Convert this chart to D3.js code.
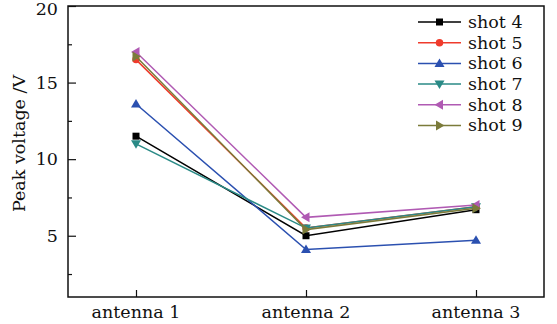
<!DOCTYPE html>
<html>
<head>
<meta charset="utf-8">
<script src="https://cdn.jsdelivr.net/npm/d3@7"></script>
<style>
  body { margin: 0; background: #fff; }
</style>
</head>
<body>
<div id="chart"></div>
<script>
const width = 557;
const height = 324;
const margin = { top: 6, right: 13, bottom: 27, left: 68 };

// --- data ---
const antennas = ["antenna 1", "antenna 2", "antenna 3"];
const shotNames = ["shot 4", "shot 5", "shot 6", "shot 7", "shot 8", "shot 9"];
const shot4 = [11.5, 5.0, 6.7];
const shot5 = [16.5, 5.5, 6.9];
const shot6 = [13.6, 4.1, 4.7];
const shot7 = [11.0, 5.5, 6.9];
const shot8 = [17.0, 6.2, 7.0];
const shot9 = [16.7, 5.4, 6.8];
const yTicks = [5, 10, 15, 20];
const yMinorTicks = [2.5, 7.5, 12.5, 17.5];

const colors = ["#000000", "#ef3b2c", "#2b50b0", "#2a8a86", "#b05ab3", "#7b7b3a"];
const symbols = ["square", "circle", "up", "down", "left", "right"];

const series = shotNames.map((name, i) => ({
    name: name,
    values: [shot4, shot5, shot6, shot7, shot8, shot9][i],
    color: colors[i],
    symbol: symbols[i]
}));

const svg = d3.select("#chart")
    .append("svg")
    .attr("width", width)
    .attr("height", height)
    .attr("font-family", "'DejaVu Serif', 'Liberation Serif', serif")
    .attr("font-size", 17.5)
    .style("font-family", "'DejaVu Serif', 'Liberation Serif', serif");

const x = d3.scalePoint()
    .domain(antennas)
    .range([margin.left, width - margin.right])
    .padding(0.4);

const y = d3.scaleLinear()
    .domain([1, 20])
    .range([height - margin.bottom, margin.top]);

// marker path generator
function markerPath(type) {
    if (type === "square") return "M-3.5,-3.5H3.5V3.5H-3.5Z";
    if (type === "circle") return d3.symbol(d3.symbolCircle, 44)();
    if (type === "up") return "M0,-5L5,3.5L-5,3.5Z";
    if (type === "down") return "M0,5L5,-3.5L-5,-3.5Z";
    if (type === "left") return "M-5,0L3.5,-5L3.5,5Z";
    return "M5,0L-3.5,-5L-3.5,5Z";
}

// --- axes ---
const plotBottom = height - margin.bottom;
const plotRight = width - margin.right;

const yAxis = svg.append("g")
    .attr("transform", `translate(${margin.left},0)`)
    .call(d3.axisRight(y).tickValues(yTicks).tickSize(8).tickFormat(""));
yAxis.select(".domain").remove();
yAxis.selectAll("line").attr("stroke", "#111").attr("stroke-width", 1.2);

const yMinor = svg.append("g")
    .attr("transform", `translate(${margin.left},0)`)
    .call(d3.axisRight(y).tickValues(yMinorTicks).tickSize(4).tickFormat(""));
yMinor.select(".domain").remove();
yMinor.selectAll("line").attr("stroke", "#111").attr("stroke-width", 1.2);

// top label nudged down so it stays inside the picture
svg.append("g")
    .selectAll("text")
    .data(yTicks)
    .enter()
    .append("text")
    .attr("x", margin.left - 10)
    .attr("y", d => y(d) + (d === 20 ? 3 : 0))
    .attr("dy", "0.34em")
    .attr("text-anchor", "end")
    .attr("fill", "#111")
    .text(d => d);

const xAxis = svg.append("g")
    .attr("transform", `translate(0,${plotBottom})`)
    .call(d3.axisTop(x).tickSize(7).tickFormat(""));
xAxis.select(".domain").remove();
xAxis.selectAll("line").attr("stroke", "#111").attr("stroke-width", 1.2);

svg.append("g")
    .selectAll("text")
    .data(antennas)
    .enter()
    .append("text")
    .attr("x", d => x(d))
    .attr("y", plotBottom + 21)
    .attr("text-anchor", "middle")
    .attr("fill", "#111")
    .text(d => d);

// frame
svg.append("rect")
    .attr("x", margin.left)
    .attr("y", margin.top)
    .attr("width", plotRight - margin.left)
    .attr("height", plotBottom - margin.top)
    .attr("fill", "none")
    .attr("stroke", "#111")
    .attr("stroke-width", 1.5);

svg.append("text")
    .attr("transform", `translate(25,${(margin.top + plotBottom) / 2 - 8}) rotate(-90)`)
    .attr("text-anchor", "middle")
    .attr("fill", "#111")
    .text("Peak voltage /V");

// --- lines + markers ---
const line = d3.line()
    .x((d, i) => x(antennas[i]))
    .y(d => y(d));

const seriesG = svg.selectAll(".series")
    .data(series)
    .enter()
    .append("g")
    .attr("class", "series");

seriesG.append("path")
    .attr("d", d => line(d.values))
    .attr("fill", "none")
    .attr("stroke", d => d.color)
    .attr("stroke-width", 1.5);

seriesG.selectAll(".pt")
    .data(d => d.values.map((v, i) => ({ v: v, i: i, s: d })))
    .enter()
    .append("path")
    .attr("class", "pt")
    .attr("transform", d => `translate(${x(antennas[d.i])},${y(d.v)})`)
    .attr("d", d => markerPath(d.s.symbol))
    .attr("fill", d => d.s.color);

// --- legend ---
const legend = svg.append("g")
    .attr("transform", "translate(418,22)");

const item = legend.selectAll(".item")
    .data(series)
    .enter()
    .append("g")
    .attr("class", "item")
    .attr("transform", (d, i) => `translate(0,${i * 20.7})`);

item.append("line")
    .attr("x1", 0)
    .attr("x2", 43)
    .attr("stroke", d => d.color)
    .attr("stroke-width", 1.5);

item.append("path")
    .attr("transform", "translate(21.5,0)")
    .attr("d", d => markerPath(d.symbol))
    .attr("fill", d => d.color);

item.append("text")
    .attr("x", 50)
    .attr("dy", "0.34em")
    .attr("fill", "#111")
    .text(d => d.name);
</script>
</body>
</html>
